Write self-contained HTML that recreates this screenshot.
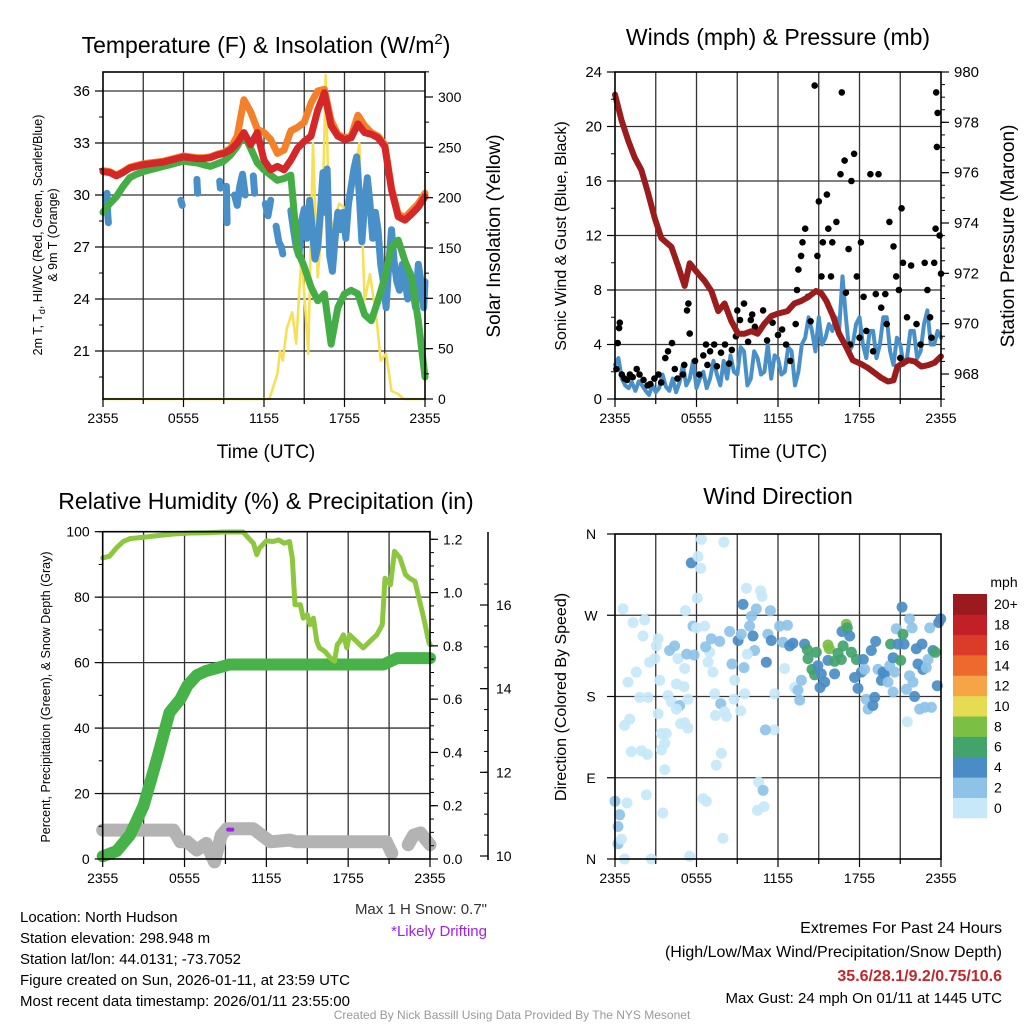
<!DOCTYPE html>
<html><head><meta charset="utf-8"><title>Mesonet Station Summary</title>
<style>
html,body{margin:0;padding:0;background:#fff;}
svg{display:block;font-family:"Liberation Sans",Arial,sans-serif;}
</style></head>
<body>
<svg id="chart" width="1024" height="1024" viewBox="0 0 1024 1024">
<rect x="0" y="0" width="1024" height="1024" fill="#fff"/>
<text x="266" y="53" font-size="23" text-anchor="middle">Temperature (F) &amp; Insolation (W/m<tspan dy="-9" font-size="15">2</tspan><tspan dy="9">)</tspan></text>
<text x="778" y="45" font-size="23" text-anchor="middle">Winds (mph) &amp; Pressure (mb)</text>
<text x="266" y="509" font-size="23" text-anchor="middle">Relative Humidity (%) &amp; Precipitation (in)</text>
<text x="778" y="504" font-size="23" text-anchor="middle">Wind Direction</text>
<text x="266" y="458" font-size="19" text-anchor="middle">Time (UTC)</text>
<text x="778" y="458" font-size="19" text-anchor="middle">Time (UTC)</text>
<g transform="translate(42,235) rotate(-90)">
<text x="0" y="0" font-size="12.5" text-anchor="middle">2m T, T<tspan dy="3" font-size="9">d</tspan><tspan dy="-3">, HI/WC (Red, Green, Scarlet/Blue)</tspan></text>
<text x="0" y="15" font-size="12.5" text-anchor="middle">&amp; 9m T (Orange)</text>
</g>
<text transform="translate(500,236) rotate(-90)" font-size="19" text-anchor="middle">Solar Insolation (Yellow)</text>
<text transform="translate(566,236) rotate(-90)" font-size="16" text-anchor="middle">Sonic Wind &amp; Gust (Blue, Black)</text>
<text transform="translate(1014,236) rotate(-90)" font-size="19" text-anchor="middle">Station Pressure (Maroon)</text>
<text transform="translate(50,697) rotate(-90)" font-size="12.5" text-anchor="middle">Percent, Precipitation (Green), &amp; Snow Depth (Gray)</text>
<text transform="translate(566,697) rotate(-90)" font-size="16" text-anchor="middle">Direction (Colored By Speed)</text>
<text x="1004" y="587" font-size="14" text-anchor="middle">mph</text>
<g font-size="15">
<text x="20" y="922">Location: North Hudson</text>
<text x="20" y="943">Station elevation: 298.948 m</text>
<text x="20" y="964">Station lat/lon: 44.0131; -73.7052</text>
<text x="20" y="985">Figure created on Sun, 2026-01-11, at 23:59 UTC</text>
<text x="20" y="1006">Most recent data timestamp: 2026/01/11 23:55:00</text>
</g>
<text x="487" y="914" font-size="15" text-anchor="end" fill="#333">Max 1 H Snow: 0.7"</text>
<text x="487" y="936" font-size="15" text-anchor="end" fill="#a020f0">*Likely Drifting</text>
<text x="1002" y="933" font-size="16" text-anchor="end">Extremes For Past 24 Hours</text>
<text x="1002" y="957" font-size="16" text-anchor="end">(High/Low/Max Wind/Precipitation/Snow Depth)</text>
<text x="1002" y="981" font-size="16" font-weight="bold" text-anchor="end" fill="#c1272d">35.6/28.1/9.2/0.75/10.6</text>
<text x="1002" y="1003" font-size="15" text-anchor="end">Max Gust: 24 mph On 01/11 at 1445 UTC</text>
<text x="512" y="1019" font-size="12" text-anchor="middle" fill="#999">Created By Nick Bassill Using Data Provided By The NYS Mesonet</text>
</svg>
<script>
// ---------- DATA ----------
const xTickLabels = ["2355","0555","1155","1755","2355"];
const xTickHours = [0,6,12,18,24];
const halfHours = [0,0.5,1,1.5,2,2.5,3,3.5,4,4.5,5,5.5,6,6.5,7,7.5,8,8.5,9,9.5,10,10.5,11,11.5,12,12.5,13,13.5,14,14.5,15,15.5,16,16.5,17,17.5,18,18.5,19,19.5,20,20.5,21,21.5,22,22.5,23,23.5,24];
const tempRed = [31.35,31.3,31.1,31.3,31.55,31.65,31.75,31.8,31.85,31.9,32.0,32.1,32.2,32.15,32.1,32.1,32.15,32.3,32.4,32.6,33.0,33.6,32.9,33.6,32.0,31.45,31.65,31.45,32.0,32.7,33.1,33.4,34.9,35.9,34.0,33.4,33.2,33.3,34.1,33.6,33.5,33.3,32.8,30.3,28.75,28.55,28.9,29.3,29.9];
const temp9m = [31.4,31.35,31.15,31.35,31.6,31.7,31.8,31.85,31.9,31.95,32.05,32.15,32.25,32.2,32.15,32.15,32.2,32.35,32.45,32.7,33.4,35.5,34.8,33.8,33.6,33.2,32.4,32.6,33.7,33.9,34.2,35.3,36.0,36.1,34.3,33.5,33.3,33.4,34.6,34.0,33.6,33.4,32.9,30.4,28.9,28.7,29.1,29.5,30.1];
const heatWind = [29.0,29.5,29.9,30.5,31.0,31.2,31.35,31.45,31.55,31.65,31.75,31.85,31.95,31.9,31.85,31.75,31.65,31.8,31.95,32.3,32.8,33.5,32.7,31.85,31.45,31.15,30.85,30.95,31.15,26.8,25.85,24.7,23.9,24.3,21.4,23.5,24.3,24.5,24.3,23.1,22.75,23.9,25.25,27.0,27.4,26.2,25.25,22.75,19.5];
const dewHours = [0.3,0.35,0.4,null,5.8,5.9,null,7.0,7.05,null,8.7,8.75,null,9.2,9.25,null,9.8,10.0,10.2,10.4,10.6,null,11.2,11.3,null,12.1,12.3,12.5,null,12.9,13.1,13.3,13.4,null,14.0,14.2,14.4,14.6,14.8,15.0,15.2,15.4,15.6,15.8,16.0,16.2,16.4,16.5,16.7,16.9,17.1,17.3,17.5,17.7,17.9,18.1,18.3,18.5,18.7,18.9,19.1,19.3,19.5,19.7,19.9,20.1,20.3,20.5,20.7,20.9,21.1,21.3,21.5,21.7,21.9,22.1,22.3,22.5,22.7,22.9,23.1,23.3,23.5,23.7,23.9,24.0];
const dewVals = [30.1,28.9,28.4,null,29.7,29.4,null,30.9,30.1,null,30.8,30.4,null,30.5,28.4,null,30.0,29.4,30.5,31.2,30.0,null,31.1,30.1,null,29.5,28.8,29.7,null,28.2,27.3,27.0,26.6,null,29.1,28.0,27.0,26.5,28.5,29.2,27.5,29.7,28.0,26.3,27.0,29.0,31.3,29.0,31.5,26.5,25.6,27.5,29.0,28.0,29.0,27.5,29.5,30.5,31.5,32.2,30.0,27.3,29.5,31.0,29.5,27.5,29.0,28.0,26.0,25.0,23.5,26.0,28.0,26.2,25.0,24.5,26.0,25.3,24.0,25.5,24.5,23.5,26.0,25.0,23.5,25.0];
const solarHours = [0,12.4,13.0,13.2,13.4,13.7,14.1,14.4,14.8,15.3,15.65,16.0,16.35,16.6,16.9,17.1,17.6,18.3,18.6,19.1,19.5,19.9,20.4,20.7,21.1,21.5,22.0,22.4,24];
const solarVals = [0,0,25,48,38,70,86,55,144,45,254,121,177,322,151,171,194,187,211,254,98,124,78,38,45,8,5,0,0];
const tempTicks = [21,24,27,30,33,36];
const solarTicks = [0,50,100,150,200,250,300];

const windVals = [2.5,3.0,1.5,1.0,0.8,1.2,0.6,1.3,1.0,0.6,0.3,1.0,0.5,0.8,1.8,0.9,0.6,1.5,0.5,1.2,2.5,1.0,1.5,2.8,0.8,1.5,2.0,0.8,1.5,2.8,1.8,1.0,2.8,1.5,3.2,2.0,1.8,3.8,3.5,1.0,1.5,3.5,3.0,1.8,2.0,4.0,1.5,3.2,3.0,1.8,2.0,3.8,3.5,1.0,2.0,4.0,4.5,6.0,5.0,3.5,6.0,4.0,4.5,5.5,5.0,6.0,5.0,9.0,6.0,3.5,4.0,5.5,6.0,4.0,3.0,5.0,5.0,3.0,4.0,6.0,6.0,3.5,2.5,4.5,4.0,2.5,3.0,5.0,5.0,3.0,3.5,5.5,6.5,4.0,4.0,5.0,4.5];
const gustHours = [0.1,0.2,0.3,0.35,0.5,0.7,0.9,1.1,1.3,1.6,1.8,2.1,2.4,2.6,2.9,3.2,3.4,3.7,3.9,4.2,4.4,4.6,5.0,5.1,5.3,5.4,5.5,5.9,6.2,6.5,6.7,6.8,7.0,7.3,7.5,7.8,8.1,8.4,8.6,8.9,9.0,9.2,9.5,9.8,10.0,10.1,10.3,10.6,10.9,11.2,11.6,12.0,12.3,12.6,12.9,13.3,13.4,13.5,13.7,13.8,14.0,14.2,14.4,14.7,14.9,15.0,15.2,15.3,15.6,15.7,15.9,16.0,16.3,16.6,16.7,16.9,17.0,17.2,17.3,17.4,17.6,17.8,18.0,18.1,18.3,18.5,18.8,19.0,19.2,19.4,19.6,19.9,20.0,20.2,20.5,20.7,20.9,21.0,21.1,21.2,21.5,21.8,22.2,22.5,22.8,23.0,23.2,23.3,23.5,23.6,23.65,23.7,23.75,23.9,24.0];
const gustVals = [2.2,4.1,5.2,5.6,1.8,1.5,1.4,1.8,1.6,2.2,1.8,1.4,1.0,1.1,1.5,1.8,1.2,3.0,3.5,4.1,2.2,1.5,1.8,2.5,6.5,7.0,4.8,2.8,1.8,3.2,4.0,2.5,3.5,4.0,2.4,3.4,4.0,2.6,3.6,4.6,6.5,5.8,7.0,4.2,5.8,6.2,5.3,5.0,6.5,4.3,5.6,4.7,5.1,4.0,2.8,5.5,8.0,9.5,10.5,11.5,12.5,7.5,5.7,23.0,10.5,14.5,9.0,11.5,15.0,12.5,9.0,11.5,13.0,16.5,22.5,17.5,7.8,11.0,4.0,16.0,18.0,9.0,4.5,11.5,7.5,5.0,16.5,3.5,7.7,16.5,6.7,7.7,5.5,13.0,11.2,9.0,8.0,3.0,14.0,10.0,6.0,9.8,5.5,4.0,10.0,8.0,6.0,4.5,10.0,12.5,22.5,18.5,21.0,12.0,9.2];
const presHours = [0,0.47,0.96,1.45,1.94,2.43,2.92,3.41,4.15,4.64,5.13,5.5,6.1,6.6,7.1,7.6,8.07,8.56,9.06,9.55,10.04,10.5,11.0,11.5,12.0,12.7,13.2,13.7,14.2,14.8,15.2,15.56,16.05,16.5,17.0,17.5,18.1,18.6,19.1,19.6,20.1,20.5,20.8,21.1,21.6,22.06,22.55,23.04,23.53,24];
const presVals = [979.1,978.1,977.3,976.6,976.1,975.2,974.2,973.4,973.05,972.3,971.5,972.4,972.0,971.7,971.3,970.5,970.8,970.1,969.6,969.6,969.7,969.6,970.0,970.3,970.4,970.5,970.8,970.9,971.05,971.3,971.2,970.9,970.3,969.6,969.1,968.55,968.4,968.25,968.05,967.85,967.7,967.75,968.3,968.4,968.55,968.5,968.3,968.35,968.45,968.7];
const windTicks = [0,4,8,12,16,20,24];
const presTicks = [968,970,972,974,976,978,980];

const rhHours = [0,0.5,1,1.5,2,3,4,5.2,6.4,7.6,8.9,10.3,10.7,11.05,11.3,11.5,12.0,12.5,12.9,13.3,13.7,13.9,14.1,14.5,14.7,15.0,15.2,15.45,15.7,15.9,16.3,16.7,17.0,17.2,17.4,17.65,17.9,18.1,18.6,19.1,19.6,20.1,20.5,20.7,21.1,21.4,21.8,22.2,22.5,22.9,23.3,23.6,23.9,24];
const rhVals = [92,92.5,95,97,97.9,98.3,98.8,99.3,99.6,99.7,99.9,99.9,98,96.5,93,95,97.2,97,97.5,96.5,97,92,77.7,77.7,73.6,74.6,71.6,73.6,66.5,64.5,63.4,61.4,60.4,65.5,66.5,68.5,64.5,68.5,66.5,64.5,66.5,68.5,71.6,85.8,83.8,94,92,86.9,85.8,84.8,77.7,72.6,66.5,65.5];
const precipHours = [0,1.03,2,3,4,4.9,5.7,6.2,6.9,7.6,8.6,9.3,20.6,21.6,24];
const precipVals = [0.01,0.03,0.09,0.2,0.38,0.55,0.6,0.65,0.69,0.706,0.72,0.73,0.73,0.754,0.754];
const snowHours = [0,5.2,5.7,6.2,6.9,7.6,8.2,8.7,9.1,11.05,12.3,13.7,14.2,20.8,21.2,null,22.4,22.8,23.3,24];
const snowVals = [10.62,10.62,10.34,10.34,10.14,10.3,9.86,10.5,10.65,10.65,10.34,10.38,10.34,10.34,10.07,null,10.27,10.5,10.55,10.27];
const driftHours = [9.2,9.5];
const driftVals = [10.63,10.63];
const pctTicks = [0,20,40,60,80,100];
const precipTicks = [0.0,0.2,0.4,0.6,0.8,1.0,1.2];
const snowTicks = [10,12,14,16];

const dirHours = [0,0.34,0.22,0.22,0.47,0.71,0.59,1.33,2.06,2.18,0.96,1.57,1.82,1.08,0.71,1.2,1.94,2.38,2.31,0.88,2.67,3.17,3.04,2.92,2.55,3.29,2.43,3.9,4.15,3.17,3.41,3.78,3.66,3.41,3.66,3.53,4.02,4.39,4.64,4.52,5.13,5.08,4.76,4.52,4.83,5.13,5.37,5.18,5.37,5.28,5.82,5.62,6.36,6.11,6.31,6.06,5.74,5.99,6.6,6.85,6.97,6.67,7.09,7.71,7.21,7.34,7.39,7.78,8.07,8.2,7.83,7.46,6.48,6.72,7.95,8.02,5.5,8.44,8.61,8.81,9.06,9.3,9.42,9.67,9.91,10.04,10.28,10.16,10.4,10.72,10.82,11.14,11.26,11.44,11.51,11.75,11.71,11.07,10.58,10.9,10.48,10.97,9.55,9.25,9.5,9.74,8.76,12.12,12.37,12.69,12.49,12.86,13.1,13.23,13.47,13.6,13.72,13.96,14.16,14.21,14.5,14.7,14.82,14.94,15.19,15.44,15.09,15.68,15.78,15.68,16.17,16.42,16.79,16.71,17.03,17.1,17.28,17.4,16.66,16.17,17.77,17.64,17.89,18.13,18.28,18.38,18.5,18.63,18.87,18.99,19.12,19.19,19.36,19.61,19.73,19.85,20.1,20.22,20.29,20.47,20.47,20.71,20.59,20.83,21.03,21.13,21.2,21.28,21.45,21.52,21.69,21.69,21.87,21.94,22.06,22.18,22.31,22.43,22.67,22.6,22.8,22.92,23.04,23.17,23.29,23.41,23.58,23.73,23.83,23.98];
const dirDegs = [64,49,36,17,22,0,277,262,247,265,196,207,179,155,148,119,120,116,71,62,0,244,236,222,218,198,179,181,174,161,139,139,128,121,99,51,231,236,222,194,211,191,170,166,150,151,145,275,177,227,226,328,354,335,322,289,258,256,258,218,229,235,244,241,207,183,159,172,163,158,117,104,67,64,23,351,3,252,216,198,242,249,282,300,258,269,231,247,277,297,291,218,249,275,242,183,143,143,85,76,54,58,183,164,212,227,177,258,240,259,211,236,239,190,187,176,198,238,232,222,210,204,229,214,205,196,190,237,233,220,219,228,236,252,260,256,247,229,221,205,221,201,189,207,221,210,177,166,231,170,179,241,210,198,207,205,196,214,238,223,185,255,207,238,220,279,249,238,188,152,266,203,256,196,180,233,216,166,210,238,168,212,221,256,168,231,229,192,262,266];
const dirSpeeds = [3,3,3,3,1,1,1,1,1,1,1,1,1,1,1,1,1,1,1,1,1,1,1,1,1,1,1,1,1,1,1,1,1,1,1,1,3,3,1,1,1,1,3,1,1,1,1,1,1,3,3,5,1,1,1,1,3,1,1,1,1,3,3,3,1,1,1,3,1,1,1,1,1,1,1,1,1,3,3,1,5,3,5,1,3,3,3,5,3,1,1,5,3,3,5,1,1,3,1,3,1,1,1,1,3,1,1,3,3,3,1,5,5,1,3,3,3,5,7,7,7,7,7,5,5,5,5,9,9,5,7,7,7,5,9,7,5,7,7,5,7,5,5,5,5,3,3,3,5,5,5,5,3,5,5,5,3,3,7,5,3,3,3,5,7,5,7,5,3,1,3,3,3,3,5,5,5,3,5,5,3,3,3,3,3,5,7,5,5,5];
const dirTickLabels = ["N","E","S","W","N"];
const dirTickDegs = [0,90,180,270,360];
const speedBins = [0,2,4,6,8,10,12,14,16,18,20];
const speedBinLabels = ["0","2","4","6","8","10","12","14","16","18","20+"];
const speedColors = ["#c6e8f8","#8ec3e8","#4a8dc6","#42a36b","#7bbf45","#e6dc52","#f6a546","#ee6a2c","#dd3b29","#c21f26","#9b1a1e"];

// ---------- HELPERS ----------
const NS = "http://www.w3.org/2000/svg";
const svg = document.getElementById("chart");
function mk(tag, parent) { const e = document.createElementNS(NS, tag); parent.appendChild(e); return e; }
function group(name) {
  const g = mk("g", svg);
  
  
  return g;
}
function linear(d0, d1, r0, r1) { return v => r0 + (v - d0) * (r1 - r0) / (d1 - d0); }
function pathD(xs, ys, fx, fy) {
  let d = "", pen = false;
  for (let i = 0; i < xs.length; i++) {
    if (xs[i] === null || ys[i] === null) { pen = false; continue; }
    d += (pen ? "L" : "M") + fx(xs[i]).toFixed(1) + "," + fy(ys[i]).toFixed(1);
    pen = true;
  }
  return d;
}
function drawLine(parent, name, xs, ys, fx, fy, color, width) {
  const p = mk("path", parent);
  
  
  p.setAttribute("d", pathD(xs, ys, fx, fy));
  p.setAttribute("fill", "none");
  p.setAttribute("stroke", color);
  p.setAttribute("stroke-width", width);
  p.setAttribute("stroke-linejoin", "round");
  p.setAttribute("stroke-linecap", "round");
  return p;
}
function seg(parent, x1, y1, x2, y2, color, w) {
  const l = mk("line", parent);
  l.setAttribute("x1", x1); l.setAttribute("y1", y1); l.setAttribute("x2", x2); l.setAttribute("y2", y2);
  l.setAttribute("stroke", color); l.setAttribute("stroke-width", w);
  return l;
}
function label(parent, x, y, s, size, anchor) {
  const t = mk("text", parent);
  t.setAttribute("x", x); t.setAttribute("y", y);
  t.setAttribute("font-size", size); t.setAttribute("text-anchor", anchor);
  t.textContent = s;
  return t;
}
function panelFrame(prefix, x0, x1, y0, y1, fx, hGridVals, fyGrid) {
  const g = group(prefix + "-grid");
  for (let h = 3; h < 24; h += 3) {
    const l = seg(g, fx(h), y0, fx(h), y1, "#333", 1.3);
    
    
  }
  hGridVals.forEach(v => {
    const y = fyGrid(v);
    if (y > y0 + 1 && y < y1 - 1) {
      const l = seg(g, x0, y, x1, y, "#333", 1.3);
      
      
    }
  });
  return g;
}
function border(prefix, x0, x1, y0, y1) {
  const r = mk("rect", svg);
  
  
  r.setAttribute("x", x0); r.setAttribute("y", y0); r.setAttribute("width", x1 - x0); r.setAttribute("height", y1 - y0);
  r.setAttribute("fill", "none"); r.setAttribute("stroke", "#000"); r.setAttribute("stroke-width", 1.6);
}
function xAxis(prefix, fx, yb) {
  const g = group(prefix + "-x-axis");
  for (let h = 0; h <= 24; h += 3) {
    const major = h % 6 === 0;
    seg(g, fx(h), yb, fx(h), yb + (major ? 8 : 5), "#000", 1.2);
  }
  xTickHours.forEach((h, i) => {
    const t = label(g, fx(h), yb + 24, xTickLabels[i], 14, "middle");
    
    
  });
}
function yAxis(prefix, side, x, vals, fy, fmt, step, minorDiv, size, off) {
  const g = group(prefix + "-y-axis-" + side);
  const dir = side === "left" ? -1 : 1;
  vals.forEach(v => {
    const y = fy(v);
    seg(g, x, y, x + dir * 8, y, "#000", 1.2);
    const t = label(g, x + dir * (off || 13), y + 5, fmt(v), size || 15, side === "left" ? "end" : "start");
    
    
  });
  if (minorDiv) {
    const lo = vals[0] - step, hi = vals[vals.length - 1] + step;
    for (let v = lo; v <= hi + 1e-9; v += step / minorDiv) {
      const y = fy(v);
      if (y < fy.top - 0.5 || y > fy.bot + 0.5) continue;
      seg(g, x, y, x + dir * 4, y, "#000", 1);
    }
  }
}

// ---------- PANEL 1: Temperature ----------
(function () {
  const x0 = 103, x1 = 425, y0 = 72, y1 = 399;
  const fx = linear(0, 24, x0, x1);
  const fT = linear(30, 33, 195, 143); fT.top = y0; fT.bot = y1;
  const fS = linear(0, 300, 399, 97); fS.top = y0; fS.bot = y1;
  panelFrame("temp", x0, x1, y0, y1, fx, tempTicks, fT);
  const g = group("temp-series");
  drawLine(g, "insolation-line", solarHours, solarVals, fx, fS, "#f6e05a", 2.6);
  drawLine(g, "dewpoint-line", dewHours, dewVals, fx, fT, "#4a90c8", 7);
  drawLine(g, "heat-index-line", halfHours, heatWind, fx, fT, "#45ad45", 7);
  drawLine(g, "temp-9m-line", halfHours, temp9m, fx, fT, "#f4802a", 7);
  drawLine(g, "temp-2m-line", halfHours, tempRed, fx, fT, "#d62728", 7);
  border("temp", x0, x1, y0, y1);
  xAxis("temp", fx, y1);
  yAxis("temp", "left", x0, tempTicks, fT, v => String(v), 3, 2, 15);
  yAxis("solar", "right", x1, solarTicks, fS, v => String(v), 50, 2, 14);
})();

// ---------- PANEL 2: Winds ----------
(function () {
  const x0 = 615, x1 = 941, y0 = 72, y1 = 399;
  const fx = linear(0, 24, x0, x1);
  const fW = linear(0, 24, y1, y0); fW.top = y0; fW.bot = y1;
  const fP = linear(968, 980, 374, 72); fP.top = y0; fP.bot = y1;
  panelFrame("wind", x0, x1, y0, y1, fx, windTicks, fW);
  const g = group("wind-series");
  const windHours = windVals.map((v, i) => i * 0.25);
  drawLine(g, "sonic-wind-line", windHours, windVals, fx, fW, "#4a90c8", 4);
  gustHours.forEach((h, i) => {
    const c = mk("circle", g);
    
    
    c.setAttribute("cx", fx(h).toFixed(1));
    c.setAttribute("cy", fW(gustVals[i]).toFixed(1));
    c.setAttribute("r", 3.3);
    c.setAttribute("fill", "#000");
  });
  drawLine(g, "pressure-line", presHours, presVals, fx, fP, "#9b1c1c", 6);
  border("wind", x0, x1, y0, y1);
  xAxis("wind", fx, y1);
  yAxis("wind", "left", x0, windTicks, fW, v => String(v), 4, 2, 15);
  yAxis("pressure", "right", x1, presTicks, fP, v => String(v), 2, 4, 15);
})();

// ---------- PANEL 3: RH / Precip ----------
(function () {
  const x0 = 102.7, x1 = 430, y0 = 531.7, y1 = 859;
  const fx = linear(0, 24, x0, x1);
  const fR = linear(0, 100, y1, y0); fR.top = y0; fR.bot = y1;
  const fPr = linear(0, 1.2, 859, 539.3); fPr.top = y0; fPr.bot = y1;
  const fSn = linear(10, 16, 856, 605); fSn.top = 532; fSn.bot = 860;
  panelFrame("rh", x0, x1, y0, y1, fx, pctTicks, fR);
  const g = group("rh-series");
  drawLine(g, "snow-depth-line", snowHours, snowVals, fx, fSn, "#b3b3b3", 13);
  drawLine(g, "drifting-marker", driftHours, driftVals, fx, fSn, "#a020f0", 4);
  drawLine(g, "precip-line", precipHours, precipVals, fx, fPr, "#47b247", 12);
  drawLine(g, "rh-line", rhHours, rhVals, fx, fR, "#8dc63f", 5);
  border("rh", x0, x1, y0, y1);
  xAxis("rh", fx, y1);
  yAxis("rh", "left", x0, pctTicks, fR, v => String(v), 20, 2, 14);
  yAxis("precip", "right", x1, precipTicks, fPr, v => v.toFixed(1), 0.2, 4, 14);
  const sg = group("snow-axis");
  seg(sg, 488, 532, 488, 860, "#000", 1.5);
  for (let s = 10; s <= 16.9; s += 0.5) seg(sg, 488, fSn(s), 484, fSn(s), "#000", 1);
  snowTicks.forEach(v => {
    seg(sg, 488, fSn(v), 480, fSn(v), "#000", 1.2);
    const t = label(sg, 496, fSn(v) + 5, String(v), 14, "start");
    
    
  });
})();

// ---------- PANEL 4: Direction ----------
(function () {
  const x0 = 615, x1 = 941, y0 = 534, y1 = 859;
  const fx = linear(0, 24, x0, x1);
  const fD = linear(0, 360, y1, y0);
  panelFrame("dir", x0, x1, y0, y1, fx, dirTickDegs, fD);
  const g = group("direction-points");
  function colorFor(s) {
    let k = 0;
    for (let i = 0; i < speedBins.length; i++) if (s >= speedBins[i]) k = i;
    return speedColors[k];
  }
  dirHours.forEach((h, i) => {
    const c = mk("circle", g);
    
    
    c.setAttribute("cx", fx(h).toFixed(1));
    c.setAttribute("cy", fD(dirDegs[i]).toFixed(1));
    c.setAttribute("r", 5.5);
    c.setAttribute("fill", colorFor(dirSpeeds[i]));
    c.setAttribute("fill-opacity", 0.92);
  });
  border("dir", x0, x1, y0, y1);
  xAxis("dir", fx, y1);
  const ga = group("dir-y-axis");
  dirTickDegs.forEach((d, i) => {
    seg(ga, x0, fD(d), x0 - 8, fD(d), "#000", 1.2);
    const t = label(ga, 591, fD(d) + 5, dirTickLabels[i], 14, "middle");
    
    
  });
  // colorbar
  const cb = group("speed-colorbar");
  const cbTop = 594, cbH = 224, n = speedColors.length, bh = cbH / n;
  speedColors.forEach((col, i) => {
    const r = mk("rect", cb);
    
    
    const yy = cbTop + (n - 1 - i) * bh;
    r.setAttribute("x", 953); r.setAttribute("y", yy.toFixed(1));
    r.setAttribute("width", 34); r.setAttribute("height", (bh + 0.3).toFixed(1));
    r.setAttribute("fill", col);
    const t = label(cb, 994, yy + bh / 2 + 5, speedBinLabels[i], 14, "start");
    
    
  });
})();
</script>
</body></html>
